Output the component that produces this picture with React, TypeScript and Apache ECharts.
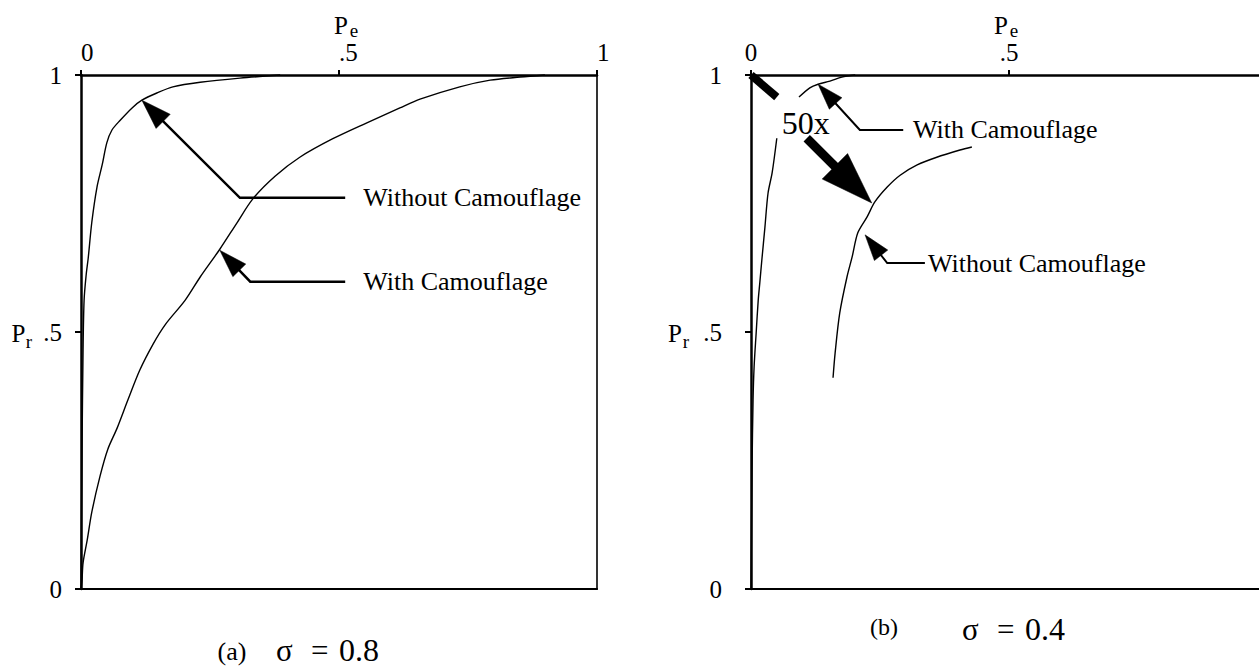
import { useEffect, useRef } from "react";
import * as echarts from "echarts";

const FONT = '"Liberation Serif", "Times New Roman", Times, serif';

// Tick values shared by both panels; ".5" is written without the leading zero.
const TICKS = [0, 0.5, 1];
const tickText = (v: number) => (v === 0.5 ? ".5" : String(v));

// (a) sigma = 0.8 — operating curves as [Pe, Pr]
const withoutCamoA: [number, number][] = [
  [0, 0], [0.002, 0.27], [0.004, 0.465], [0.006, 0.562], [0.01, 0.611],
  [0.014, 0.644], [0.021, 0.714], [0.031, 0.782], [0.041, 0.825], [0.05, 0.868],
  [0.06, 0.893], [0.076, 0.912], [0.099, 0.936], [0.118, 0.951], [0.147, 0.965],
  [0.178, 0.977], [0.231, 0.986], [0.308, 0.994], [0.386, 1.0],
];
const withCamoA: [number, number][] = [
  [0, 0], [0.002, 0.018], [0.004, 0.051], [0.012, 0.095], [0.021, 0.15],
  [0.037, 0.22], [0.052, 0.272], [0.07, 0.313], [0.091, 0.368], [0.114, 0.426],
  [0.14, 0.477], [0.163, 0.514], [0.202, 0.562], [0.231, 0.607], [0.269, 0.661],
  [0.302, 0.712], [0.333, 0.759], [0.376, 0.803], [0.424, 0.84], [0.488, 0.876],
  [0.554, 0.907], [0.618, 0.936], [0.657, 0.953], [0.734, 0.977], [0.793, 0.99],
  [0.851, 0.996], [0.899, 1.0],
];

// (b) sigma = 0.4 — the with-camouflage curve is interrupted by the "50x" note
const withCamoBLower: [number, number][] = [
  [0, 0], [0.002, 0.232], [0.004, 0.368], [0.006, 0.432], [0.01, 0.498],
  [0.014, 0.562], [0.017, 0.595], [0.021, 0.64], [0.027, 0.704], [0.033, 0.77],
  [0.041, 0.81], [0.05, 0.877],
];
const withCamoBUpper: [number, number][] = [
  [0.093, 0.957], [0.114, 0.975], [0.13, 0.982], [0.153, 0.988], [0.176, 0.996],
  [0.202, 1.0],
];
// without-camouflage curve, drawn magnified 50x
const withoutCamoB50x: [number, number][] = [
  [0.159, 0.411], [0.163, 0.459], [0.172, 0.537], [0.186, 0.607], [0.196, 0.646],
  [0.207, 0.693], [0.225, 0.724], [0.24, 0.753], [0.264, 0.782], [0.289, 0.805],
  [0.322, 0.825], [0.36, 0.84], [0.405, 0.854], [0.428, 0.86],
];

// Leader arrows in data coordinates of each panel (last point = arrow tip)
type Arrow = { grid: number; path: number[][]; head: [number, number]; width: number };
const ARROWS: Arrow[] = [
  { grid: 0, path: [[0.512, 0.761], [0.308, 0.761], [0.118, 0.951]], head: [30, 20], width: 2.5 },
  { grid: 0, path: [[0.512, 0.598], [0.328, 0.598], [0.269, 0.659]], head: [28, 18], width: 2.5 },
  { grid: 1, path: [[0.108, 0.877], [0.234, 0.751]], head: [52, 36], width: 9 },
  { grid: 1, path: [[0.295, 0.893], [0.211, 0.893], [0.13, 0.982]], head: [26, 17], width: 2 },
  { grid: 1, path: [[0.337, 0.634], [0.264, 0.634], [0.221, 0.689]], head: [26, 17], width: 2 },
];
// Tail of the magnification arrow, starting at the panel corner
const TAIL_50X = { grid: 1, path: [[0, 1], [0.05, 0.957]], width: 8 };

type Note = { grid: number; at: [number, number]; text: string; size: number; align: string };
const NOTES: Note[] = [
  { grid: 0, at: [0.547, 0.761], text: "Without Camouflage", size: 26, align: "left" },
  { grid: 0, at: [0.547, 0.598], text: "With Camouflage", size: 26, align: "left" },
  { grid: 1, at: [0.106, 0.907], text: "50x", size: 32, align: "center" },
  { grid: 1, at: [0.314, 0.893], text: "With Camouflage", size: 26, align: "left" },
  { grid: 1, at: [0.343, 0.634], text: "Without Camouflage", size: 26, align: "left" },
];

const GRIDS = [
  { left: 81, top: 75, width: 516, height: 514, outerBoundsMode: "none" },
  { left: 751, top: 75, width: 516, height: 514, outerBoundsMode: "none" },
];

function textEl(text: string, x: number, y: number, size: number, align = "left") {
  return {
    type: "text",
    x,
    y,
    silent: true,
    z: 20,
    style: {
      text,
      fill: "#000",
      fontFamily: FONT,
      fontSize: size,
      lineHeight: Math.round(size * 0.75),
      align,
      verticalAlign: "middle",
      textAlign: align,
      textVerticalAlign: "middle",
    },
  };
}

export default function App() {
  const ref = useRef<HTMLDivElement>(null);

  useEffect(() => {
    if (!ref.current) return;
    const chart = echarts.init(ref.current, undefined, { renderer: "svg" });

    const xTop = (gi: number, align: string) => ({
      type: "value",
      gridIndex: gi,
      position: "top",
      min: TICKS[0],
      max: TICKS[TICKS.length - 1],
      interval: TICKS[1] - TICKS[0],
      axisLine: { onZero: false, lineStyle: { color: "#000", width: 2.5 } },
      axisTick: { show: true, inside: false, length: 5, lineStyle: { color: "#000", width: 2 } },
      axisLabel: {
        formatter: tickText,
        color: "#000",
        fontFamily: FONT,
        fontSize: 25,
        lineHeight: 18,
        margin: 14,
        align,
        showMaxLabel: true,
      },
      splitLine: { show: false },
    });
    const xBottom = (gi: number) => ({
      type: "value",
      gridIndex: gi,
      position: "bottom",
      min: 0,
      max: 1,
      axisLine: { onZero: false, lineStyle: { color: "#000", width: 2.2 } },
      axisTick: { show: false },
      axisLabel: { show: false },
      splitLine: { show: false },
    });
    const yLeft = (gi: number, margin: number) => ({
      type: "value",
      gridIndex: gi,
      position: "left",
      min: TICKS[0],
      max: TICKS[TICKS.length - 1],
      interval: TICKS[1] - TICKS[0],
      axisLine: { onZero: false, lineStyle: { color: "#000", width: 2.5 } },
      axisTick: { show: true, inside: false, length: 6, lineStyle: { color: "#000", width: 2 } },
      axisLabel: {
        formatter: tickText,
        color: "#000",
        fontFamily: FONT,
        fontSize: 25,
        lineHeight: 18,
        margin,
      },
      splitLine: { show: false },
    });
    const yRight = (gi: number) => ({
      type: "value",
      gridIndex: gi,
      position: "right",
      min: 0,
      max: 1,
      axisLine: { onZero: false, lineStyle: { color: "#000", width: 1.6 } },
      axisTick: { show: false },
      axisLabel: { show: false },
      splitLine: { show: false },
    });

    const curve = (data: [number, number][], xi: number, yi: number) => ({
      type: "line",
      xAxisIndex: xi,
      yAxisIndex: yi,
      data,
      showSymbol: false,
      symbol: "none",
      smooth: 0.3,
      clip: false,
      silent: true,
      lineStyle: { color: "#000", width: 1.4 },
    });

    chart.setOption({
      animation: false,
      backgroundColor: "#fff",
      textStyle: { fontFamily: FONT },
      grid: GRIDS,
      xAxis: [xTop(0, "left"), xBottom(0), xTop(1, "center"), xBottom(1)],
      yAxis: [yLeft(0, 19), yRight(0), yLeft(1, 29)],
      series: [
        curve(withoutCamoA, 0, 0),
        curve(withCamoA, 0, 0),
        curve(withCamoBLower, 2, 2),
        curve(withCamoBUpper, 2, 2),
        curve(withoutCamoB50x, 2, 2),
      ],
    });

    const toPx = (grid: number, p: number[]) =>
      chart.convertToPixel({ gridIndex: grid }, p) as number[];

    const graphics: any[] = [];

    // Magnification arrow tail
    graphics.push({
      type: "polyline",
      silent: true,
      z: 20,
      shape: { points: TAIL_50X.path.map((p) => toPx(TAIL_50X.grid, p)) },
      style: { stroke: "#000", lineWidth: TAIL_50X.width, fill: null, lineCap: "butt" },
    });

    for (const a of ARROWS) {
      const pts = a.path.map((p) => toPx(a.grid, p));
      const tip = pts[pts.length - 1];
      const prev = pts[pts.length - 2];
      const dx = tip[0] - prev[0];
      const dy = tip[1] - prev[1];
      const len = Math.hypot(dx, dy);
      const ux = dx / len;
      const uy = dy / len;
      const [hl, hw] = a.head;
      const bx = tip[0] - ux * hl;
      const by = tip[1] - uy * hl;
      const shaft = [...pts.slice(0, -1), [bx + ux * 2, by + uy * 2]];
      graphics.push({
        type: "polyline",
        silent: true,
        z: 20,
        shape: { points: shaft },
        style: { stroke: "#000", lineWidth: a.width, fill: null, lineJoin: "miter" },
      });
      graphics.push({
        type: "polygon",
        silent: true,
        z: 21,
        shape: {
          points: [
            tip,
            [bx - uy * (hw / 2), by + ux * (hw / 2)],
            [bx + uy * (hw / 2), by - ux * (hw / 2)],
          ],
        },
        style: { fill: "#000", stroke: "#000", lineWidth: 0.5 },
      });
    }

    for (const n of NOTES) {
      const [x, y] = toPx(n.grid, n.at);
      graphics.push(textEl(n.text, x, y, n.size, n.align));
    }

    // Axis names P_e (top, above the ".5" tick) and P_r (left, beside ".5")
    const [xa, ya] = toPx(0, [0.5, 0.5]);
    const [xb, yb] = toPx(1, [0.5, 0.5]);
    graphics.push(textEl("P", xa + 2, 25, 25, "center"));
    graphics.push(textEl("e", xa + 15, 30, 19, "center"));
    graphics.push(textEl("P", xb - 8, 25, 25, "center"));
    graphics.push(textEl("e", xb + 5, 30, 19, "center"));
    graphics.push(textEl("P", 18.5, ya + 1, 25, "center"));
    graphics.push(textEl("r", 29, ya + 9, 19, "center"));
    graphics.push(textEl("P", 675, yb + 1, 25, "center"));
    graphics.push(textEl("r", 686, yb + 9, 19, "center"));

    // Panel captions
    graphics.push(textEl("(a)", 232, 651, 26, "center"));
    graphics.push(textEl("σ", 276, 650, 31, "left"));
    graphics.push(textEl("=", 311, 650, 31, "left"));
    graphics.push(textEl("0.8", 339, 650, 32, "left"));
    graphics.push(textEl("(b)", 884, 627, 24, "center"));
    graphics.push(textEl("σ", 962, 629, 31, "left"));
    graphics.push(textEl("=", 997, 629, 31, "left"));
    graphics.push(textEl("0.4", 1025, 629, 32, "left"));

    chart.setOption({ graphic: graphics });

    return () => chart.dispose();
  }, []);

  return (
    <div
      ref={ref}
      style={{ position: "absolute", left: 0, top: 0, width: 1259, height: 667, background: "#fff" }}
    />
  );
}
